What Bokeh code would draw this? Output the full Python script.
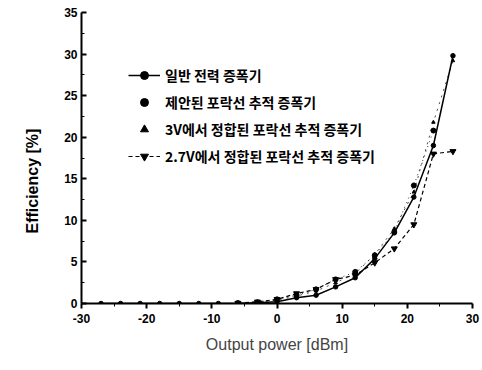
from bokeh.plotting import figure
from bokeh.models import Range1d, Legend, LegendItem, Title, FixedTicker
from bokeh.embed import file_html
from bokeh.resources import INLINE

# Data
power = [-27, -24, -21, -18, -15, -12, -9, -6, -3, 0, 3, 6, 9, 12, 15, 18, 21, 24, 27]
conventional = [0, 0, 0, 0, 0, 0, 0, 0, 0.1, 0.2, 0.7, 1.0, 2.0, 3.1, 5.4, 8.5, 12.8, 19.0, 29.8]

power_et = [-6, -3, 0, 3, 6, 9, 12, 15, 18, 21, 24]
proposed = [0.05, 0.15, 0.5, 1.0, 1.7, 2.9, 3.8, 5.8, 8.6, 14.2, 20.8]

power_3v = [-6, -3, 0, 3, 6, 9, 12, 15, 18, 21, 24, 27]
matched_3v = [0.05, 0.15, 0.4, 0.9, 1.5, 2.5, 3.6, 5.9, 9.0, 13.4, 21.8, 29.2]

power_27v = [-6, -3, 0, 3, 6, 9, 12, 15, 18, 21, 24, 27]
matched_27v = [0.05, 0.2, 0.5, 1.2, 1.7, 2.9, 3.4, 4.9, 6.6, 9.5, 18.0, 18.3]

labels = ["일반 전력 증폭기", "제안된 포락선 추적 증폭기",
          "3V에서 정합된 포락선 추적 증폭기", "2.7V에서 정합된 포락선 추적 증폭기"]
x_ticks = [-30, -20, -10, 0, 10, 20, 30]
y_ticks = [0, 5, 10, 15, 20, 25, 30, 35]

p = figure(width=480, height=362, output_backend="svg", toolbar_location=None,
           x_range=Range1d(-30, 30), y_range=Range1d(0, 35),
           min_border_left=81, min_border_right=8, min_border_top=12, min_border_bottom=59)
p.outline_line_color = None
p.grid.visible = False
p.background_fill_color = "white"

for ax in (p.xaxis, p.yaxis):
    ax.axis_line_width = 2
    ax.axis_line_color = "black"
    ax.major_tick_line_width = 2
    ax.minor_tick_line_width = 1
    ax.major_label_text_font = "Liberation Sans"
    ax.major_label_text_font_style = "bold"
    ax.major_label_text_font_size = "12px"
    ax.major_label_text_color = "black"

p.xaxis.ticker = FixedTicker(ticks=x_ticks, minor_ticks=[-25, -15, -5, 5, 15, 25])
p.xaxis.major_label_overrides = {t: str(t) for t in x_ticks}
p.xaxis.major_tick_out = 5
p.xaxis.major_tick_in = 0
p.xaxis.minor_tick_out = 3
p.xaxis.minor_tick_in = 0
p.xaxis.major_label_standoff = 5
p.xaxis.axis_label = "Output power [dBm]"
p.xaxis.axis_label_text_font = "Liberation Sans"
p.xaxis.axis_label_text_font_style = "normal"
p.xaxis.axis_label_text_font_size = "16px"
p.xaxis.axis_label_standoff = 10

p.yaxis.ticker = FixedTicker(ticks=y_ticks, minor_ticks=[2.5 + 5 * i for i in range(7)])
p.yaxis.major_tick_out = 0
p.yaxis.major_tick_in = 5
p.yaxis.minor_tick_out = 0
p.yaxis.minor_tick_in = 3
p.yaxis.major_label_standoff = 4

# Y label as a left title, placed slightly below center like the original
ylab = Title(text="Efficiency [%]", align="left", offset=70,
             text_font="Liberation Sans", text_font_style="bold",
             text_font_size="16px", text_color="black")
if "standoff" in Title.properties():
    ylab.standoff = 42
p.add_layout(ylab, "left")

l1 = p.line(power, conventional, line_color="black", line_width=1.5)
s1 = p.scatter(power, conventional, marker="circle", size=4.5, color="black")

l2 = p.line(power_et, proposed, line_color="black", line_width=1, line_dash="1 4", line_alpha=0.8)
s2 = p.scatter(power_et, proposed, marker="circle", size=5, color="black")

l3 = p.line(power_3v, matched_3v, line_color="black", line_width=1, line_dash="2 5", line_alpha=0.7)
s3 = p.scatter(power_3v, matched_3v, marker="triangle", size=3.5, color="black")

l4 = p.line(power_27v, matched_27v, line_color="black", line_width=1.2, line_dash="4 3")
s4 = p.scatter(power_27v, matched_27v, marker="inverted_triangle", size=6, color="black")

legend = Legend(items=[
    LegendItem(label=labels[0], renderers=[l1, s1]),
    LegendItem(label=labels[1], renderers=[s2]),
    LegendItem(label=labels[2], renderers=[s3]),
    LegendItem(label=labels[3], renderers=[l4, s4]),
], location=(47, 137))
legend.border_line_color = None
legend.background_fill_alpha = 0
legend.padding = 0
legend.margin = 0
legend.spacing = 7
legend.glyph_width = 32
legend.glyph_height = 20
legend.label_height = 20
legend.label_standoff = 5
legend.label_text_font = "Noto Sans CJK KR"
legend.label_text_font_style = "bold"
legend.label_text_font_size = "14px"
legend.label_text_color = "black"
p.add_layout(legend)

open("out.html", "w").write(file_html(p, INLINE))
